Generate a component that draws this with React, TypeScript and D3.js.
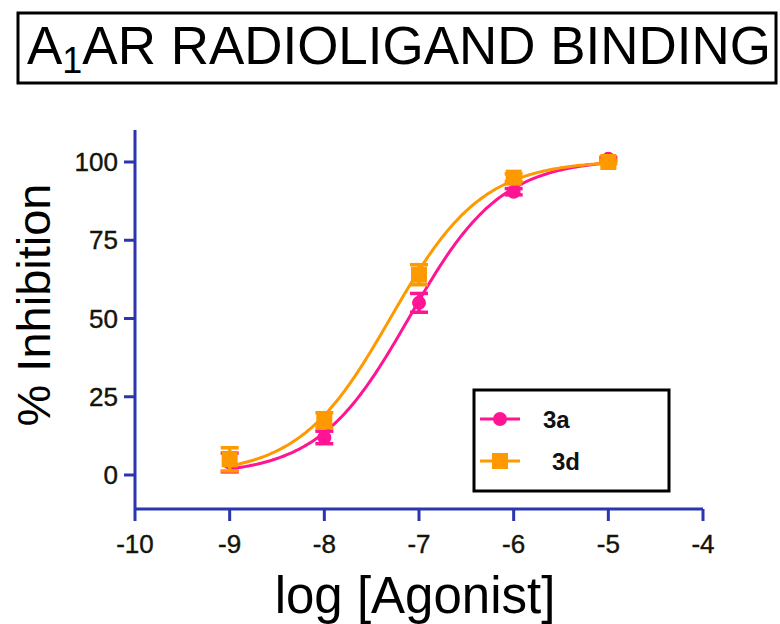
import React from 'react';
import * as d3 from 'd3';

// concentrations (log M) and responses
const logDoses = [-9, -8, -7, -6, -5];
const series3a = [4, 12, 55, 90.5, 101];
const err3a = [3, 2, 3, 1, 0.5];
const series3d = [5, 17.5, 64, 95, 100];
const err3d = [3.7, 2.4, 3.2, 1.2, 0.5];

// fitted sigmoid parameters: [bottom, top, logEC50, hill]
const fit3a = [0, 101, -7.1, 0.9];
const fit3d = [0, 100.5, -7.3, 0.9];

const xTicks = [-10, -9, -8, -7, -6, -5, -4];
const yTicks = [0, 25, 50, 75, 100];

const PINK = '#ff1493';
const ORANGE = '#ff9900';
const AXIS = '#2b35ad';
const FONT = 'Liberation Sans, Arial, sans-serif';

function App() {
  const x = d3.scaleLinear().domain([-10, -4]).range([135, 703]);
  const y = d3.scaleLinear().domain([0, 100]).range([475, 162]);

  const sig = (p: number[]) => (v: number) =>
    p[0] + (p[1] - p[0]) / (1 + Math.pow(10, (p[2] - v) * p[3]));

  const fitLine = (p: number[]) => {
    const f = sig(p);
    const xs = d3.range(-9, -5.0001, 0.02).concat([-5]);
    return d3.line<number>().x(v => x(v)).y(v => y(f(v)))(xs) || '';
  };

  const errorBars = (vals: number[], errs: number[], color: string) =>
    logDoses.map((d, i) => (
      <g key={i} stroke={color} strokeWidth={3.5}>
        <line x1={x(d)} x2={x(d)} y1={y(vals[i] - errs[i])} y2={y(vals[i] + errs[i])} />
        <line x1={x(d) - 9} x2={x(d) + 9} y1={y(vals[i] - errs[i])} y2={y(vals[i] - errs[i])} />
        <line x1={x(d) - 9} x2={x(d) + 9} y1={y(vals[i] + errs[i])} y2={y(vals[i] + errs[i])} />
      </g>
    ));

  return (
    <svg width={780} height={624} style={{ position: 'absolute', left: 0, top: 0, background: '#fff' }}
      fontFamily={FONT}>
      {/* title */}
      <rect x={18} y={13} width={758} height={70} fill="none" stroke="#000" strokeWidth={3} />
      <text x={27} y={64} fontSize={53} fill="#000" textLength={744} lengthAdjust="spacingAndGlyphs">
        A<tspan fontSize={36} dy={9}>1</tspan><tspan dy={-9}>AR RADIOLIGAND BINDING</tspan>
      </text>

      {/* axes */}
      <line x1={135} x2={135} y1={130} y2={509} stroke={AXIS} strokeWidth={3} />
      <line x1={135} x2={703} y1={509} y2={509} stroke={AXIS} strokeWidth={3} />
      {yTicks.map(t => (
        <g key={t}>
          <line x1={124} x2={135} y1={y(t)} y2={y(t)} stroke={AXIS} strokeWidth={3} />
          <text x={118} y={y(t) + 9} textAnchor="end" fontSize={26} fill="#14140a"
            stroke="#14140a" strokeWidth={0.4}>{t}</text>
        </g>
      ))}
      {xTicks.map(t => (
        <g key={t}>
          <line x1={x(t)} x2={x(t)} y1={509} y2={521} stroke={AXIS} strokeWidth={3} />
          <text x={x(t)} y={553} textAnchor="middle" fontSize={26} fill="#14140a"
            stroke="#14140a" strokeWidth={0.4}>{t}</text>
        </g>
      ))}

      <text transform="translate(50,305) rotate(-90)" textAnchor="middle" fontSize={47} fill="#000">
        % Inhibition
      </text>
      <text x={415} y={613} textAnchor="middle" fontSize={51} fill="#000">log [Agonist]</text>

      {/* fitted curves */}
      <path d={fitLine(fit3a)} fill="none" stroke={PINK} strokeWidth={3} />
      <path d={fitLine(fit3d)} fill="none" stroke={ORANGE} strokeWidth={3} />

      {/* 3a points */}
      {errorBars(series3a, err3a, PINK)}
      {logDoses.map((d, i) => (
        <circle key={i} cx={x(d)} cy={y(series3a[i])} r={7} fill={PINK} />
      ))}
      {/* 3d points */}
      {errorBars(series3d, err3d, ORANGE)}
      {logDoses.map((d, i) => (
        <rect key={i} x={x(d) - 8} y={y(series3d[i]) - 8} width={16} height={16} fill={ORANGE} />
      ))}

      {/* legend */}
      <rect x={474} y={390} width={195} height={101} fill="#fff" stroke="#000" strokeWidth={3} />
      <line x1={480} x2={520} y1={419} y2={419} stroke={PINK} strokeWidth={3} />
      <circle cx={500} cy={419} r={7} fill={PINK} />
      <text x={543} y={428} fontSize={24} fontWeight="bold" fill="#111">3a</text>
      <line x1={480} x2={520} y1={461} y2={461} stroke={ORANGE} strokeWidth={3} />
      <rect x={492} y={453} width={16} height={16} fill={ORANGE} />
      <text x={552} y={470} fontSize={24} fontWeight="bold" fill="#111">3d</text>
    </svg>
  );
}

export default App;
